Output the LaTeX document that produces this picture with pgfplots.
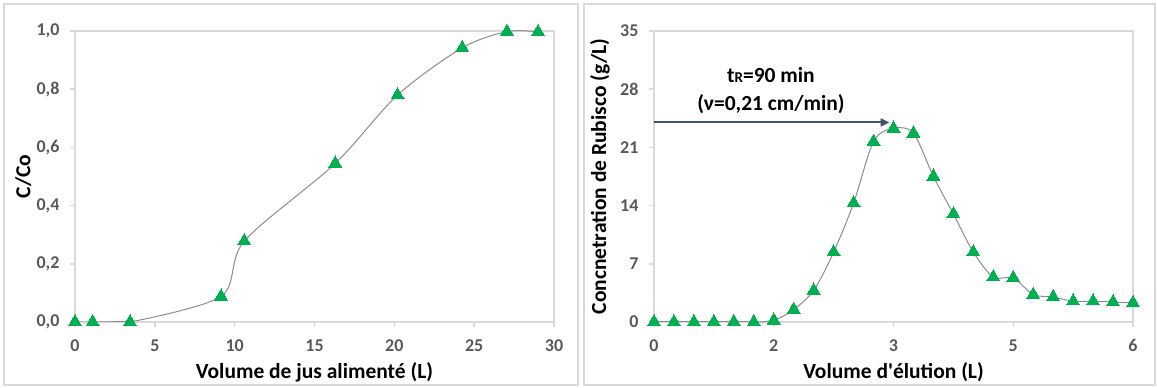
\documentclass[border=0pt]{standalone}
\usepackage{fontspec}
\setmainfont{Carlito}
\newfontfamily\carlitoplain{Carlito}[Ligatures=ResetAll]
\usepackage{pgfplots}
\pgfplotsset{compat=1.18}
\usetikzlibrary{arrows.meta}
\definecolor{tickgray}{HTML}{595959}
\definecolor{framegray}{HTML}{D9D9D9}
\definecolor{mkgreen}{HTML}{00B050}
\definecolor{curvegray}{HTML}{8C8C8C}
\definecolor{arrowc}{HTML}{44546A}
\pgfplotsset{
  mystyle/.style={
    scale only axis, width=479pt, height=291pt, anchor=south west,
    axis line style={framegray, line width=2pt},
    tick style={framegray, line width=1.5pt},
    tick align=outside, major tick length=5pt,
    xtick pos=bottom, ytick pos=left,
    ticklabel style={font=\fontsize{18}{21}\selectfont\bfseries, text=tickgray},
    xticklabel style={yshift=-9pt},
    yticklabel style={xshift=-7pt},
    label style={font=\fontsize{21.5}{25}\selectfont\bfseries, text=black},
    clip=false,
  },
  curve/.style={curvegray, line width=1pt, smooth, tension=0.5, mark=none},
  pts/.style={only marks, mark=triangle*, mark size=7.5pt, mark options={fill=mkgreen, draw=mkgreen, line width=0pt}},
}
\begin{document}
\begin{tikzpicture}[x=1pt,y=1pt]
\path (0pt,0pt) rectangle (1157pt,388pt);
\draw[framegray, line width=1.2pt] (4pt,3pt) rectangle (578pt,384pt);
\draw[framegray, line width=1.2pt] (584pt,3pt) rectangle (1155pt,384pt);
\begin{axis}[mystyle, at={(75pt,66pt)},
  xmin=0, xmax=30, ymin=0, ymax=1,
  xtick={0,5,10,15,20,25,30},
  xticklabels={0,5,10,15,20,25,30},
  ytick={0,0.2,0.4,0.6,0.8,1},
  yticklabels={{0,0},{0,2},{0,4},{0,6},{0,8},{1,0}},
  xlabel={Volume de jus alimenté (L)},
  ylabel={C/Co},
  xlabel style={at={(axis description cs:0.5,-0.172)}, anchor=center},
  ylabel style={at={(axis description cs:-0.108,0.5)}, anchor=center},
]
\addplot[curvegray, line width=1pt, mark=none] coordinates {(0,0) (1.1,0) (3.45,0)};
\addplot[curve] coordinates {(3.45,0) (9.15,0.088) (10.6,0.278) (16.3,0.545) (20.2,0.78) (24.25,0.942) (27.05,0.998) (29.0,0.997)};
\addplot[pts] coordinates {(0,0) (1.1,0) (3.45,0) (9.15,0.088) (10.6,0.278) (16.3,0.545) (20.2,0.78) (24.25,0.942) (27.05,0.998) (29.0,0.997)};
\end{axis}
\begin{axis}[mystyle, at={(654pt,66pt)},
  xmin=0, xmax=6, ymin=0, ymax=35,
  xtick={0,1.5,3,4.5,6},
  xticklabels={0,2,3,5,6},
  ytick={0,7,14,21,28,35},
  yticklabels={0,7,14,21,28,35},
  xlabel={Volume d{\carlitoplain\bfseries '}élution (L)},
  ylabel={Concnetration de Rubisco (g/L)},
  xlabel style={at={(axis description cs:0.5,-0.172)}, anchor=center},
  ylabel style={at={(axis description cs:-0.113,0.5)}, anchor=center},
]
\addplot[curvegray, line width=1pt, mark=none] coordinates {(0,0) (1.25,0)};
\addplot[curve] coordinates {(1.25,0) (1.5,0.2) (1.75,1.5) (2,3.8) (2.25,8.4) (2.5,14.3) (2.75,21.7) (3,23.3) (3.25,22.7) (3.5,17.5) (3.75,13.0) (4,8.4) (4.25,5.4) (4.5,5.3) (4.75,3.3) (5,3.0) (5.25,2.5) (5.5,2.5) (5.75,2.4) (6,2.3)};
\addplot[pts] coordinates {(0,0) (0.25,0) (0.5,0) (0.75,0) (1,0) (1.25,0) (1.5,0.2) (1.75,1.5) (2,3.8) (2.25,8.4) (2.5,14.3) (2.75,21.7) (3,23.3) (3.25,22.7) (3.5,17.5) (3.75,13.0) (4,8.4) (4.25,5.4) (4.5,5.3) (4.75,3.3) (5,3.0) (5.25,2.5) (5.5,2.5) (5.75,2.4) (6,2.3)};
\draw[arrowc, line width=2pt, -{Triangle[length=9pt,width=8pt]}] (axis cs:0,24) -- (axis cs:2.95,24);
\node[font=\fontsize{21.5}{28}\selectfont\bfseries, align=center] at (axis cs:1.465,27.8) {t{\fontsize{15}{15}\selectfont R}=90 min\\(ν=0,21 cm/min)};
\end{axis}
\end{tikzpicture}
\end{document}
